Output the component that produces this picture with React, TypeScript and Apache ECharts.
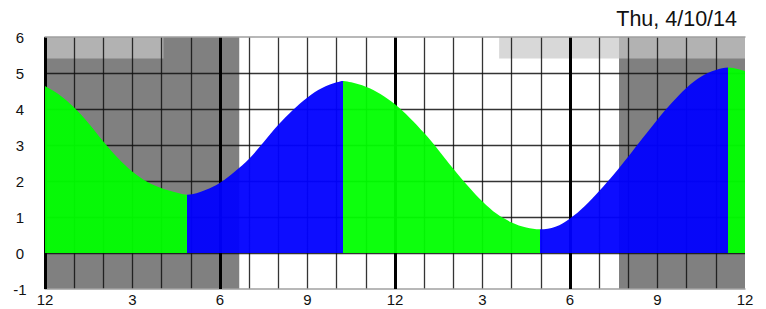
import React, { useEffect, useRef } from "react";
import * as echarts from "echarts";

const TITLE = "Thu, 4/10/14";

// hour of day (0 = midnight) and tide height
const TIDE_HOURS = [
  0, 0.5, 1, 1.5, 2, 2.5, 3, 3.5, 4, 4.5, 4.88, 5.5, 6, 6.5, 7, 7.5, 8, 8.5, 9, 9.5, 10, 10.23,
  10.5, 11, 11.5, 12, 12.5, 13, 13.5, 14, 14.5, 15, 15.5, 16, 16.5, 16.97, 17.5, 18, 18.5, 19,
  19.5, 20, 20.5, 21, 21.5, 22, 22.5, 23, 23.43, 24,
];
const TIDE_HEIGHTS = [
  4.64, 4.39, 4.04, 3.6, 3.1, 2.64, 2.26, 1.98, 1.8, 1.68, 1.62, 1.75, 1.95, 2.26, 2.62, 3.08,
  3.56, 3.97, 4.32, 4.58, 4.74, 4.78, 4.74, 4.62, 4.42, 4.13, 3.76, 3.33, 2.85, 2.34, 1.86, 1.43,
  1.08, 0.85, 0.71, 0.66, 0.73, 0.96, 1.3, 1.72, 2.18, 2.68, 3.2, 3.71, 4.18, 4.59, 4.9, 5.08,
  5.15, 5.05,
];

// high/low tide times, splitting falling (green) and rising (blue) parts
const EXTREME_HOURS = [4.88, 10.23, 16.97, 23.43];
const FIRST_SEGMENT_FALLING = true;

// sun and moon
const SUNRISE = 6.66;
const SUNSET = 19.68;
const MOONSET = 4.06;
const MOONRISE = 15.57;
const MOON_BAND = [5.4, 6];

const X_TICK_HOURS = [0, 3, 6, 9, 12, 15, 18, 21, 24];
const X_TICK_LABELS = ["12", "3", "6", "9", "12", "3", "6", "9", "12"];

const FALL_COLOR = "#00ff00";
const RISE_COLOR = "#0000ff";
const FONT = "'Liberation Sans', Arial, sans-serif";

export default function App() {
  const ref = useRef<HTMLDivElement>(null);

  useEffect(() => {
    if (!ref.current) return;
    const chart = echarts.init(ref.current, null, { renderer: "svg" });

    const bounds = [0, ...EXTREME_HOURS, 24];
    const pieces = [];
    for (let i = 0; i < bounds.length - 1; i++) {
      const falling = FIRST_SEGMENT_FALLING ? i % 2 === 0 : i % 2 === 1;
      const p: any = { gte: bounds[i], color: falling ? FALL_COLOR : RISE_COLOR };
      if (i === bounds.length - 2) p.lte = bounds[i + 1];
      else p.lt = bounds[i + 1];
      pieces.push(p);
    }

    const night = "#808080";
    const moon = "rgba(200,200,200,0.7)";

    chart.setOption({
      animation: false,
      title: {
        text: TITLE,
        right: 24,
        top: 3,
        textStyle: { fontSize: 21.5, fontWeight: "normal", color: "#111", fontFamily: FONT },
      },
      grid: { left: 45, right: 21, top: 37, bottom: 20 },
      visualMap: {
        type: "piecewise",
        show: false,
        dimension: 0,
        seriesIndex: 0,
        pieces,
      },
      xAxis: [
        {
          type: "value",
          min: 0,
          max: 24,
          interval: 1,
          z: 1.5,
          axisLine: { show: true, onZero: false, lineStyle: { color: "#a0a0a0", width: 1.5 } },
          axisTick: { show: false },
          axisLabel: {
            fontSize: 15,
            color: "#111",
            fontFamily: FONT,
            margin: 3,
            formatter: (v: number) => {
              const i = X_TICK_HOURS.indexOf(v);
              return i >= 0 ? X_TICK_LABELS[i] : "";
            },
          },
          splitLine: {
            show: true,
            showMinLine: false,
            showMaxLine: false,
            lineStyle: { color: "#111", width: 1.3, opacity: 0.85 },
          },
        },
        {
          type: "value",
          position: "top",
          min: 0,
          max: 24,
          interval: 6,
          z: 1.6,
          axisLine: { show: true, onZero: false, lineStyle: { color: "#a0a0a0", width: 1.5 } },
          axisTick: { show: false },
          axisLabel: { show: false },
          splitLine: {
            show: true,
            showMinLine: true,
            showMaxLine: false,
            lineStyle: { color: "#000", width: 3 },
          },
        },
      ],
      yAxis: {
        type: "value",
        min: -1,
        max: 6,
        interval: 1,
        z: 1.5,
        axisLine: { show: false },
        axisTick: { show: false },
        axisLabel: {
          fontSize: 15,
          color: "#111",
          fontFamily: FONT,
          align: "center",
          margin: 25,
          padding: [4, 0, 0, 0],
        },
        splitLine: {
          show: true,
          showMinLine: false,
          showMaxLine: false,
          lineStyle: { color: "#111", width: 1.3, opacity: 0.85 },
        },
      },
      series: [
        {
          type: "line",
          z: 2,
          xAxisIndex: 0,
          data: TIDE_HOURS.map((h, i) => [h, TIDE_HEIGHTS[i]]),
          smooth: 0.35,
          showSymbol: false,
          symbol: "none",
          lineStyle: { width: 0, opacity: 0 },
          areaStyle: { opacity: 0.95 },
          silent: true,
          markArea: {
            silent: true,
            z: 1,
            label: { show: false },
            data: [
              [{ xAxis: 0, itemStyle: { color: night } }, { xAxis: SUNRISE }],
              [{ xAxis: SUNSET, itemStyle: { color: night } }, { xAxis: 24 }],
              [
                { xAxis: 0, yAxis: MOON_BAND[0], itemStyle: { color: moon } },
                { xAxis: MOONSET, yAxis: MOON_BAND[1] },
              ],
              [
                { xAxis: MOONRISE, yAxis: MOON_BAND[0], itemStyle: { color: moon } },
                { xAxis: 24, yAxis: MOON_BAND[1] },
              ],
            ],
          },
        },
      ],
    });

    return () => chart.dispose();
  }, []);

  return (
    <div
      ref={ref}
      style={{ position: "absolute", left: 0, top: 0, width: 766, height: 309, background: "#fff" }}
    />
  );
}
